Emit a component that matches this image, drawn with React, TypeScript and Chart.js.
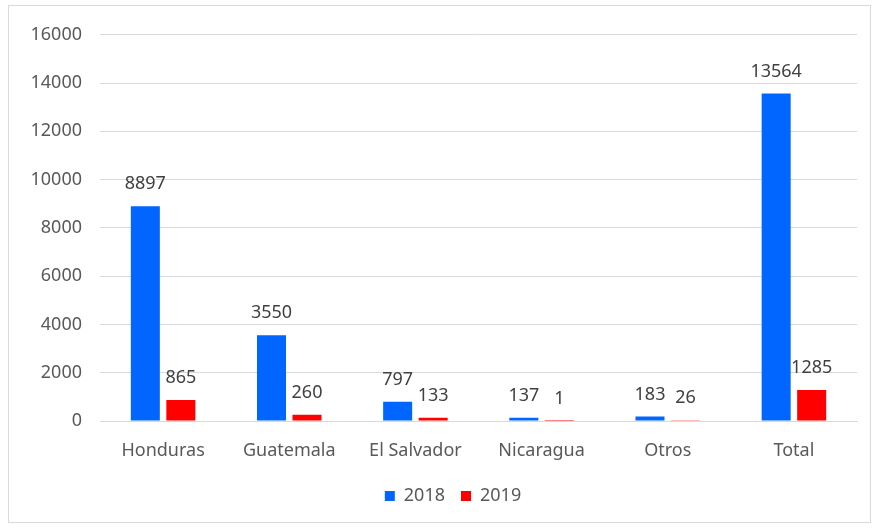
import React, { useEffect, useRef } from "react";
import { Chart, registerables } from "chart.js";

Chart.register(...registerables);

const categories = ["Honduras", "Guatemala", "El Salvador", "Nicaragua", "Otros", "Total"];
const values2018 = [8897, 3550, 797, 137, 183, 13564];
const values2019 = [865, 260, 133, 1, 26, 1285];
const seriesLabels = ["2018", "2019"];
const yMin = 0;
const yMax = 16000;
const yStep = 2000;

const FONT = '"Noto Sans", "Open Sans", sans-serif';

const dataLabels = {
  id: "dataLabels",
  afterDatasetsDraw(chart: any) {
    const ctx = chart.ctx;
    ctx.save();
    ctx.font = `18px ${FONT}`;
    ctx.fillStyle = "#404040";
    ctx.textAlign = "center";
    ctx.textBaseline = "middle";
    chart.data.datasets.forEach((ds: any, i: number) => {
      const meta = chart.getDatasetMeta(i);
      meta.data.forEach((el: any, j: number) => {
        ctx.fillText(String(ds.data[j]), el.x, el.y - 22);
      });
    });
    ctx.restore();
  },
};

const legendShift = {
  id: "legendShift",
  afterLayout(chart: any) {
    const lg = chart.legend;
    if (lg) {
      lg.left += 20;
      lg.right += 20;
    }
  },
};

export default function App() {
  const ref = useRef<HTMLCanvasElement | null>(null);
  useEffect(() => {
    if (!ref.current) return;
    const chart = new Chart(ref.current, {
      type: "bar",
      data: {
        labels: categories,
        datasets: [
          { label: seriesLabels[0], data: values2018, backgroundColor: "#0066FF" },
          { label: seriesLabels[1], data: values2019, backgroundColor: "#FF0000" },
        ],
      },
      options: {
        responsive: false,
        animation: false,
        devicePixelRatio: 1,
        layout: { padding: { left: 0, right: 13, top: 26, bottom: 7 } },
        datasets: { bar: { categoryPercentage: 0.563, barPercentage: 0.817 } },
        plugins: {
          legend: {
            position: "bottom",
            labels: {
              boxWidth: 10,
              boxHeight: 10,
              padding: 16,
              color: "#595959",
              font: { family: FONT, size: 18 },
            },
          },
          tooltip: { enabled: false },
        },
        scales: {
          x: {
            afterFit: (s: any) => { s.height = 50; },
            grid: { display: false, drawTicks: false },
            border: { display: true, color: "#d9d9d9" },
            ticks: { color: "#595959", font: { family: FONT, size: 18 }, padding: 19 },
          },
          y: {
            min: yMin,
            max: yMax,
            afterFit: (s: any) => { s.width = 91; },
            grid: { color: "#d9d9d9", drawTicks: false },
            border: { display: false },
            ticks: {
              stepSize: yStep,
              color: "#595959",
              font: { family: FONT, size: 18 },
              padding: 18,
              callback: (v: any) => String(v),
            },
          },
        },
      },
      plugins: [dataLabels, legendShift],
    });
    return () => chart.destroy();
  }, []);
  return (
    <div
      style={{
        position: "absolute",
        left: 8,
        top: 5,
        width: 863,
        height: 518,
        border: "1px solid #d9d9d9",
        boxSizing: "border-box",
        background: "#fff",
      }}
    >
      <canvas ref={ref} width={861} height={516} style={{ display: "block", width: 861, height: 516 }} />
    </div>
  );
}
